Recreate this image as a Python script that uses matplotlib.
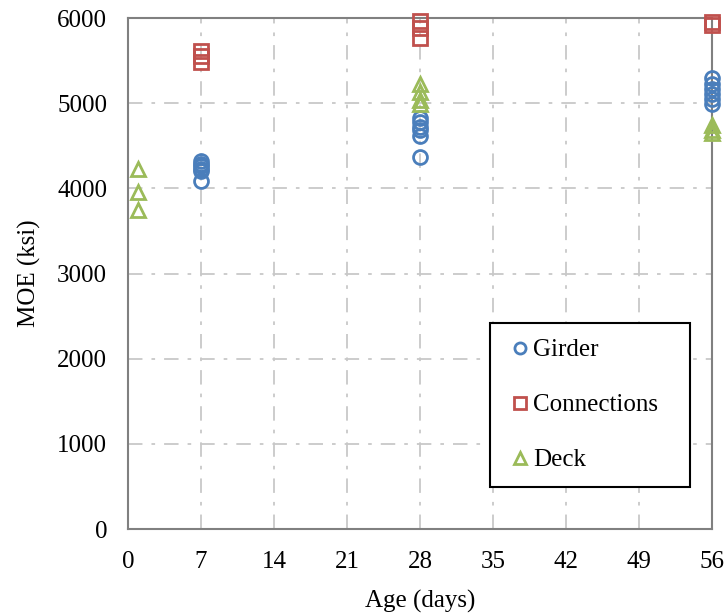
import matplotlib.pyplot as plt

# MOE test results (ksi) by age (days)
girder_age = [7, 7, 7, 7, 7, 7, 28, 28, 28, 28, 28, 28, 56, 56, 56, 56, 56, 56]
girder_moe = [4320, 4290, 4260, 4230, 4200, 4090, 4830, 4780, 4720, 4680, 4620, 4370,
              5290, 5230, 5170, 5110, 5050, 4990]

conn_age = [7, 7, 7, 28, 28, 28, 56, 56]
conn_moe = [5610, 5550, 5480, 5970, 5880, 5770, 5950, 5920]

deck_age = [1, 1, 1, 28, 28, 28, 28, 56, 56, 56]
deck_moe = [4230, 3960, 3740, 5220, 5130, 5040, 4990, 4740, 4690, 4650]

plt.rcParams['font.family'] = ['Liberation Serif', 'DejaVu Serif']

fig = plt.figure(figsize=(7.25, 6.15), dpi=100)
ax = fig.add_axes([0.1766, 0.1398, 0.8054, 0.8309])

ms = 10
ax.plot(girder_age, girder_moe, 'o', ms=ms, mfc='none', mec='#4A7EBB', mew=2,
        label='Girder', clip_on=False, zorder=3)
ax.plot(conn_age, conn_moe, 's', ms=ms, mfc='none', mec='#C0504D', mew=2,
        label='Connections', clip_on=False, zorder=3)
ax.plot(deck_age, deck_moe, '^', ms=ms, mfc='none', mec='#9BBB59', mew=2,
        label='Deck', clip_on=False, zorder=3)

ax.set_xlim(0, 56)
ax.set_ylim(0, 6000)
ax.set_xticks(range(0, 57, 7))
ax.set_yticks(range(0, 6001, 1000))
ax.tick_params(length=0, labelsize=18)
ax.tick_params(axis='x', pad=16)
ax.tick_params(axis='y', pad=15)
ax.grid(True, color='#C8C8C8', linestyle='-.', linewidth=1.3, dashes=(8, 5, 2, 5))
ax.set_axisbelow(True)
for s in ax.spines.values():
    s.set_color('#808080')
    s.set_linewidth(1.5)

ax.set_xlabel('Age (days)', fontsize=18, labelpad=12)
ax.set_ylabel('MOE (ksi)', fontsize=18, labelpad=12)

leg = ax.legend(loc='lower left', bbox_to_anchor=(0.62, 0.082, 0.342, 0.32),
                mode='expand', fontsize=18, labelspacing=1.3, handlelength=1.1,
                handletextpad=0.0, borderpad=0.63, fancybox=False, framealpha=1,
                edgecolor='black', borderaxespad=0)
leg.get_frame().set_linewidth(1.5)
for h in leg.legend_handles:
    h.set_markersize(8)

plt.savefig('out.png')
